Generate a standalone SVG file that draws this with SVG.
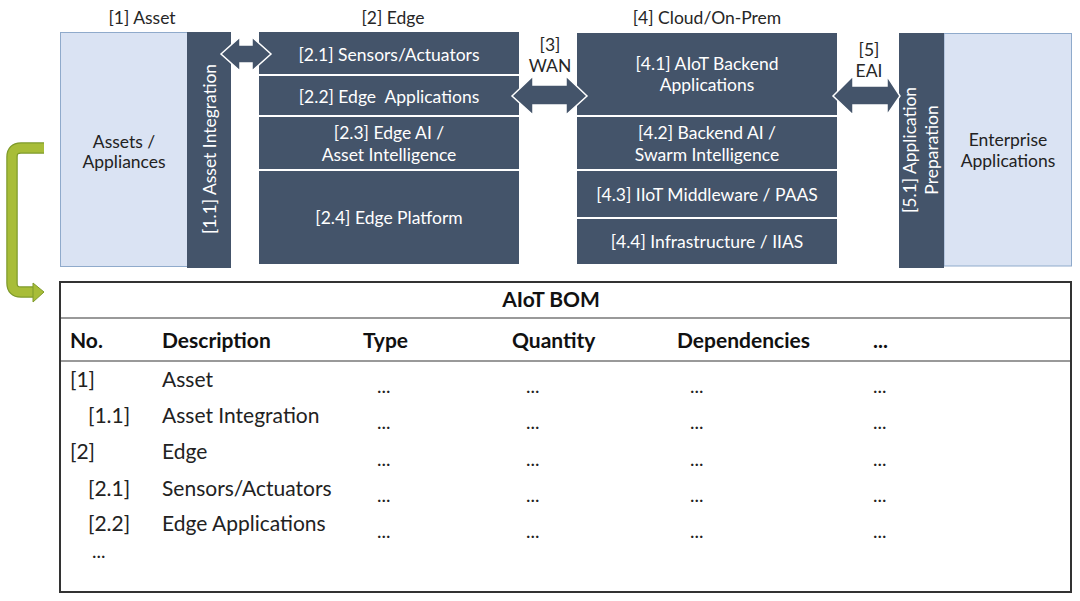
<svg xmlns="http://www.w3.org/2000/svg" width="1080" height="601" viewBox="0 0 1080 601">
<style>
text{font-family:Lato,"Open Sans","Liberation Sans",sans-serif;}
.lbl{font-size:17.5px;fill:#262626;text-anchor:middle;}
.wt{font-size:17.5px;fill:#ffffff;text-anchor:middle;white-space:pre;}
.dk{fill:#44546A;}
.lt{fill:#DAE3F3;stroke:#8FAACB;stroke-width:1;}
.arr{fill:#44546A;stroke:#ffffff;stroke-width:1.5;}
.hd{font-size:21px;font-weight:bold;fill:#111;}
.row{font-size:21px;fill:#222;}
.dot{font-size:19px;fill:#222;}
</style>
<rect width="1080" height="601" fill="#ffffff"/>

<!-- section labels -->
<text class="lbl" x="142" y="24">[1] Asset</text>
<text class="lbl" x="393" y="24">[2] Edge</text>
<text class="lbl" x="707" y="24">[4] Cloud/On-Prem</text>
<text class="lbl" x="550" y="51">[3]</text>
<text class="lbl" x="550" y="72">WAN</text>
<text class="lbl" x="869" y="56">[5]</text>
<text class="lbl" x="869" y="77">EAI</text>

<!-- Asset -->
<g id="assets">
<rect class="lt" x="60.5" y="32.5" width="127" height="234"/>
<text class="lbl" x="124" y="148" style="fill:#222">Assets /</text>
<text class="lbl" x="124" y="168" style="fill:#222">Appliances</text>
</g>
<g id="asset-integration">
<rect class="dk" x="187" y="32" width="44" height="236"/>
<text class="wt" transform="translate(215.5,149) rotate(-90)">[1.1] Asset Integration</text>
</g>

<!-- Edge -->
<g id="edge-2-1">
<rect class="dk" x="259" y="32" width="260" height="42"/>
<text class="wt" x="389" y="61">[2.1] Sensors/Actuators</text>
</g>
<g id="edge-2-2">
<rect class="dk" x="259" y="76" width="260" height="39"/>
<text class="wt" x="389" y="103" xml:space="preserve">[2.2] Edge  Applications</text>
</g>
<g id="edge-2-3">
<rect class="dk" x="259" y="117" width="260" height="52"/>
<text class="wt" x="389" y="139">[2.3] Edge AI /</text>
<text class="wt" x="389" y="161">Asset Intelligence</text>
</g>
<g id="edge-2-4">
<rect class="dk" x="259" y="171" width="260" height="93"/>
<text class="wt" x="389" y="224">[2.4] Edge Platform</text>
</g>

<!-- Cloud -->
<g id="cloud-4-1">
<rect class="dk" x="577" y="33" width="260" height="82"/>
<text class="wt" x="707" y="70">[4.1] AIoT Backend</text>
<text class="wt" x="707" y="91">Applications</text>
</g>
<g id="cloud-4-2">
<rect class="dk" x="577" y="117" width="260" height="52"/>
<text class="wt" x="707" y="139">[4.2] Backend AI /</text>
<text class="wt" x="707" y="161">Swarm Intelligence</text>
</g>
<g id="cloud-4-3">
<rect class="dk" x="577" y="171" width="260" height="46"/>
<text class="wt" x="707" y="201">[4.3] IIoT Middleware / PAAS</text>
</g>
<g id="cloud-4-4">
<rect class="dk" x="577" y="219" width="260" height="45"/>
<text class="wt" x="707" y="248">[4.4] Infrastructure / IIAS</text>
</g>

<!-- Enterprise -->
<g id="enterprise">
<rect class="lt" x="944" y="33.5" width="127.5" height="232.5"/>
<text class="lbl" x="1008" y="146" style="fill:#222">Enterprise</text>
<text class="lbl" x="1008" y="167" style="fill:#222">Applications</text>
</g>
<g id="app-prep">
<rect class="dk" x="899" y="33" width="45" height="235"/>
<text class="wt" transform="translate(916,150) rotate(-90)">[5.1] Application</text>
<text class="wt" transform="translate(938,150) rotate(-90)">Preparation</text>
</g>

<!-- connectors -->
<g id="connectors">
<polygon class="arr" points="221,54 240,37 240,45 252,45 252,37 271,54 252,71 252,63 240,63 240,71"/>
<polygon class="arr" points="512,96 533,76 533,85 566,85 566,76 587,96 566,115 566,105 533,105 533,115"/>
<polygon class="arr" points="833,96 853,76 853,86 887,86 887,76 900,96 887,115 887,105 853,105 853,115"/>
<path d="M44,148 H21 Q12,148 12,157 V283 Q12,292 21,292 H34" fill="none" stroke="#7E9A2A" stroke-width="11.5"/>
<path d="M44,148 H21 Q12,148 12,157 V283 Q12,292 21,292 H35" fill="none" stroke="#A8BD38" stroke-width="9"/>
<polygon points="33,283 44,292 33,302" fill="#A8BD38" stroke="#7E9A2A" stroke-width="1"/>
</g>

<!-- BOM table -->
<g id="bom-table">
<rect x="60" y="282" width="1011" height="310" fill="#ffffff" stroke="#333" stroke-width="2"/>
<line x1="61" y1="318" x2="1070" y2="318" stroke="#999" stroke-width="2"/>
<line x1="61" y1="361" x2="1070" y2="361" stroke="#999" stroke-width="2"/>
<text class="hd" x="551" y="307" text-anchor="middle">AIoT BOM</text>
<text class="hd" x="70" y="348">No.</text>
<text class="hd" x="162" y="348">Description</text>
<text class="hd" x="363" y="348">Type</text>
<text class="hd" x="512" y="348">Quantity</text>
<text class="hd" x="677" y="348">Dependencies</text>
<text class="hd" x="873" y="348">...</text>

<text class="row" x="70" y="387">[1]</text>
<text class="row" x="162" y="387">Asset</text>
<text class="row" x="88" y="423">[1.1]</text>
<text class="row" x="162" y="423">Asset Integration</text>
<text class="row" x="70" y="459">[2]</text>
<text class="row" x="162" y="459">Edge</text>
<text class="row" x="88" y="496">[2.1]</text>
<text class="row" x="162" y="496">Sensors/Actuators</text>
<text class="row" x="88" y="531">[2.2]</text>
<text class="row" x="162" y="531">Edge Applications</text>
<text class="dot" x="92" y="558">...</text>

<g class="dot">
<text x="377" y="393">...</text><text x="526" y="393">...</text><text x="690" y="393">...</text><text x="873" y="393">...</text>
<text x="377" y="429">...</text><text x="526" y="429">...</text><text x="690" y="429">...</text><text x="873" y="429">...</text>
<text x="377" y="466">...</text><text x="526" y="466">...</text><text x="690" y="466">...</text><text x="873" y="466">...</text>
<text x="377" y="502">...</text><text x="526" y="502">...</text><text x="690" y="502">...</text><text x="873" y="502">...</text>
<text x="377" y="538">...</text><text x="526" y="538">...</text><text x="690" y="538">...</text><text x="873" y="538">...</text>
</g>
</g>
</svg>
